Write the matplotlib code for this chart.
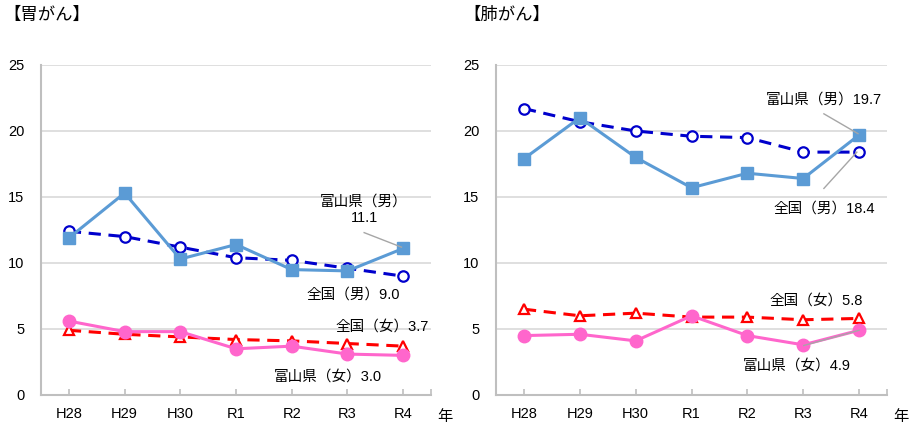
import matplotlib
matplotlib.use("Agg")
import matplotlib.pyplot as plt

plt.rcParams["font.family"] = ["Liberation Sans", "Noto Sans CJK JP"]

YEARS = ["H28", "H29", "H30", "R1", "R2", "R3", "R4"]

# stomach cancer
STOMACH_TOYAMA_M = [11.9, 15.3, 10.3, 11.4, 9.5, 9.4, 11.1]
STOMACH_JAPAN_M = [12.4, 12.0, 11.2, 10.4, 10.2, 9.6, 9.0]
STOMACH_JAPAN_F = [4.9, 4.6, 4.4, 4.2, 4.1, 3.9, 3.7]
STOMACH_TOYAMA_F = [5.6, 4.8, 4.8, 3.5, 3.7, 3.1, 3.0]

# lung cancer
LUNG_TOYAMA_M = [17.9, 21.0, 18.0, 15.7, 16.8, 16.4, 19.7]
LUNG_JAPAN_M = [21.7, 20.7, 20.0, 19.6, 19.5, 18.4, 18.4]
LUNG_JAPAN_F = [6.5, 6.0, 6.2, 5.9, 5.9, 5.7, 5.8]
LUNG_TOYAMA_F = [4.5, 4.6, 4.1, 6.0, 4.5, 3.8, 4.9]

LIGHT_BLUE = "#5b9bd5"
DARK_BLUE = "#0000cc"
RED = "#ff0000"
PINK = "#ff66cc"
GRID = "#d9d9d9"
SPINE = "#bfbfbf"
LEADER = "#a6a6a6"
INK = "#000000"


def draw(ax, toyama_m, japan_m, japan_f, toyama_f):
    x = range(len(YEARS))
    ax.plot(x, japan_m, color=DARK_BLUE, lw=2.2, ls=(0, (4, 2.5)),
            marker="o", ms=7.5, mfc="white", mec=DARK_BLUE, mew=1.6, zorder=3)
    ax.plot(x, japan_f, color=RED, lw=2.2, ls=(0, (4, 2.5)),
            marker="^", ms=7.5, mfc="white", mec=RED, mew=1.6, zorder=3)
    ax.plot(x, toyama_m, color=LIGHT_BLUE, lw=2.2,
            marker="s", ms=9, mfc=LIGHT_BLUE, mec=LIGHT_BLUE, zorder=4)
    ax.plot(x, toyama_f, color=PINK, lw=2.2,
            marker="o", ms=9, mfc=PINK, mec=PINK, zorder=4)

    ax.set_xlim(-0.5, 6.5)
    ax.set_ylim(0, 25)
    ax.set_yticks([0, 5, 10, 15, 20, 25])
    ax.set_xticks(list(x) + [6.5])
    ax.set_xticklabels(YEARS + [""])
    ax.tick_params(axis="x", direction="in", length=4, color=SPINE, width=1.2,
                   labelsize=10.5, pad=9)
    ax.tick_params(axis="y", length=0, labelsize=10.5, pad=12)
    ax.grid(axis="y", color=GRID, lw=1.2)
    ax.set_axisbelow(True)
    for side in ("top", "right"):
        ax.spines[side].set_visible(False)
    for side in ("left", "bottom"):
        ax.spines[side].set_color(SPINE)
        ax.spines[side].set_linewidth(1.5)
    ax.text(1.015, -0.045, "年", transform=ax.transAxes, fontsize=11,
            ha="left", va="top")


def label(ax, text, xy, leader=None):
    ax.text(xy[0], xy[1], text, fontsize=10.5, ha="center", va="center",
            color=INK, zorder=6)
    if leader is not None:
        (x0, y0), (x1, y1) = leader
        ax.plot([x0, x1], [y0, y1], color=LEADER, lw=1.0, zorder=5)


fig = plt.figure(figsize=(9.12, 4.4), dpi=100)
ax1 = fig.add_axes([0.045, 0.1023, 0.4276, 0.75])
ax2 = fig.add_axes([0.5439, 0.1023, 0.4287, 0.75])

draw(ax1, STOMACH_TOYAMA_M, STOMACH_JAPAN_M, STOMACH_JAPAN_F, STOMACH_TOYAMA_F)
draw(ax2, LUNG_TOYAMA_M, LUNG_JAPAN_M, LUNG_JAPAN_F, LUNG_TOYAMA_F)

label(ax1, "富山県（男）\n11.1", (5.3, 14.0), ((5.3, 12.3), (5.97, 11.2)))
label(ax1, "全国（男）9.0", (5.11, 7.6))
label(ax1, "全国（女）3.7", (5.62, 5.2))
label(ax1, "富山県（女）3.0", (4.64, 1.4))

label(ax2, "富山県（男）19.7", (5.37, 22.35), ((5.37, 21.3), (5.98, 19.8)))
label(ax2, "全国（男）18.4", (5.37, 14.15), ((5.37, 15.65), (5.96, 18.4)))
label(ax2, "全国（女）5.8", (5.23, 7.15))
label(ax2, "富山県（女）4.9", (4.88, 2.23), ((5.01, 3.75), (6.0, 4.9)))

fig.text(0.004, 0.965, "【胃がん】", fontsize=12.5, ha="left", va="center")
fig.text(0.508, 0.965, "【肺がん】", fontsize=12.5, ha="left", va="center")

fig.savefig("out.png", dpi=100, facecolor="white")
